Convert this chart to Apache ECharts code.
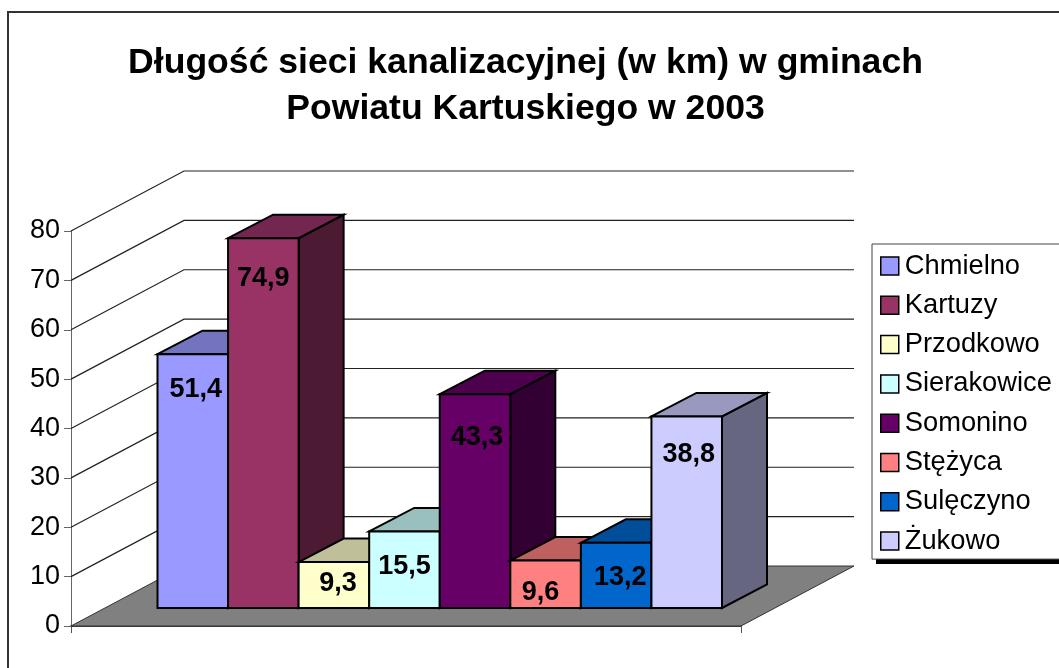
<!DOCTYPE html>
<html><head><meta charset="utf-8">
<style>html,body{margin:0;padding:0;background:#fff}#c{width:1059px;height:668px}</style>
<script src="https://cdn.jsdelivr.net/npm/echarts@6/dist/echarts.min.js"></script>
</head><body><div id="c"></div>
<script>
const titleText = 'Długość sieci kanalizacyjnej (w km) w gminach\nPowiatu Kartuskiego w 2003';
const categories = ['Chmielno','Kartuzy','Przodkowo','Sierakowice','Somonino','Stężyca','Sulęczyno','Żukowo'];
const values = [51.4,74.9,9.3,15.5,43.3,9.6,13.2,38.8];
const gridTicks = [0,10,20,30,40,50,60,70,80];

const faceColors = ['#9999FF','#993366','#FFFFCC','#CCFFFF','#660066','#FF8080','#0066CC','#CCCCFF'];
const topColors  = ['#7373BF','#732650','#BFBF99','#99BFBF','#4D004D','#BF6060','#004D99','#9999BF'];
const sideColors = ['#4D4D80','#4D1A33','#808066','#668080','#330033','#804040','#003366','#666680'];
// label placement relative to the bar's front-top centre
const labelDx = [3,0,4,0,2,-5,4,2];
const labelDy = [35,40,21,35,43,32,35,38];

const FONT = '"Liberation Sans", Arial, sans-serif';
const chart = echarts.init(document.getElementById('c'));
const wall = {dx:113, dy:-60};
const depth = {dx:45, dy:-23.5};
const poly = (pts, fill, stroke, lw) => ({type:'polygon', shape:{points:pts}, style:{fill, stroke, lineWidth:lw}});

const floorSeries = {
  type:'custom', name:'_floor', xAxisIndex:0, yAxisIndex:0, silent:true, coordinateSystem:'cartesian2d',
  data:[[0,0]], clip:false, z:2,
  renderItem(p, api){
    const a = api.coord([0,0]), b = api.coord([1,0]);
    return poly([a,b,[b[0]+wall.dx,b[1]+wall.dy],[a[0]+wall.dx,a[1]+wall.dy]], '#808080', '#333', 1);
  }
};
const gridSeries = {
  type:'custom', name:'_grid', xAxisIndex:0, yAxisIndex:0, silent:true, coordinateSystem:'cartesian2d',
  data:gridTicks.slice(1).map(v=>[0,v]), clip:false, z:2,
  renderItem(p, api){
    const a = api.coord([0,api.value(1)]), e = api.coord([1,api.value(1)]);
    return {type:'polyline', shape:{points:[a,[a[0]+wall.dx,a[1]+wall.dy],[e[0]+wall.dx,e[1]+wall.dy]]},
      style:{fill:'none', stroke:'#222', lineWidth:1.2}};
  }
};
const barSeries = categories.map((name,i)=>({
  type:'custom', name, xAxisIndex:1, yAxisIndex:1, coordinateSystem:'cartesian2d', silent:true,
  data:[[i,values[i]]], clip:false, z:3,
  itemStyle:{color:faceColors[i]},
  renderItem(p, api){
    const c = api.coord([api.value(0),api.value(1)]);
    const base = api.coord([api.value(0),0]);
    const w = api.size([1,0])[0];
    const l = c[0]-w/2, r = c[0]+w/2, t = c[1], b = base[1];
    const d = depth;
    return {type:'group', children:[
      poly([[r,t],[r+d.dx,t+d.dy],[r+d.dx,b+d.dy],[r,b]], sideColors[i], '#000', 2),
      poly([[l,t],[l+d.dx,t+d.dy],[r+d.dx,t+d.dy],[r,t]], topColors[i], '#000', 2),
      {type:'rect', shape:{x:l,y:t,width:w,height:b-t}, style:{fill:faceColors[i], stroke:'#000', lineWidth:2}},
      {type:'text', z2:10, style:{x:c[0]+labelDx[i], y:t+labelDy[i], text:String(values[i]).replace('.',','),
        fill:'#000', font:'bold 27px '+FONT, textAlign:'center', textVerticalAlign:'middle'}}
    ]};
  }
}));

chart.setOption({
  animation:false,
  backgroundColor:'#fff',
  title:{text:titleText, left:520.5, top:35, textAlign:'center',
    textStyle:{fontFamily:FONT, fontWeight:'bold', fontSize:35.6, lineHeight:46, color:'#000'}},
  graphic:[
    {type:'rect', z:3, shape:{x:876,y:559,width:190,height:5}, style:{fill:'#000'}},
    {type:'rect', z:-1, shape:{x:8,y:12,width:1200,height:800}, style:{fill:'none', stroke:'#333', lineWidth:2}}
  ],
  legend:{orient:'vertical', left:872, top:244, padding:[8.5,30,4.5,8], itemGap:12.3, itemWidth:18, itemHeight:18,
    data:categories, icon:'rect', selectedMode:false, align:'left',
    backgroundColor:'#fff', borderColor:'#444', borderWidth:1, borderRadius:0,
    itemStyle:{borderColor:'#000', borderWidth:1.5},
    textStyle:{fontFamily:FONT, fontSize:27.3, color:'#000', padding:[0,0,0,1], lineHeight:26}},
  grid:[
    {left:71, width:670, top:231, height:395},
    {left:157.5, width:564.5, top:213, height:395}
  ],
  xAxis:[
    {gridIndex:0, type:'value', min:0, max:1, interval:1, splitLine:{show:false}, axisLabel:{show:false},
      axisLine:{lineStyle:{color:'#000', width:1.5}}, axisTick:{show:true, length:7, lineStyle:{color:'#555'}}},
    {gridIndex:1, type:'category', data:categories, show:false}
  ],
  yAxis:[
    {gridIndex:0, type:'value', min:0, max:80, interval:10, splitLine:{show:false},
      axisLine:{show:true, lineStyle:{color:'#666', width:1}}, axisTick:{show:true, length:7, lineStyle:{color:'#666'}},
      axisLabel:{fontFamily:FONT, fontSize:27, color:'#000', margin:11}},
    {gridIndex:1, type:'value', min:0, max:80, show:false}
  ],
  series:[floorSeries, gridSeries, ...barSeries]
});
</script></body></html>
